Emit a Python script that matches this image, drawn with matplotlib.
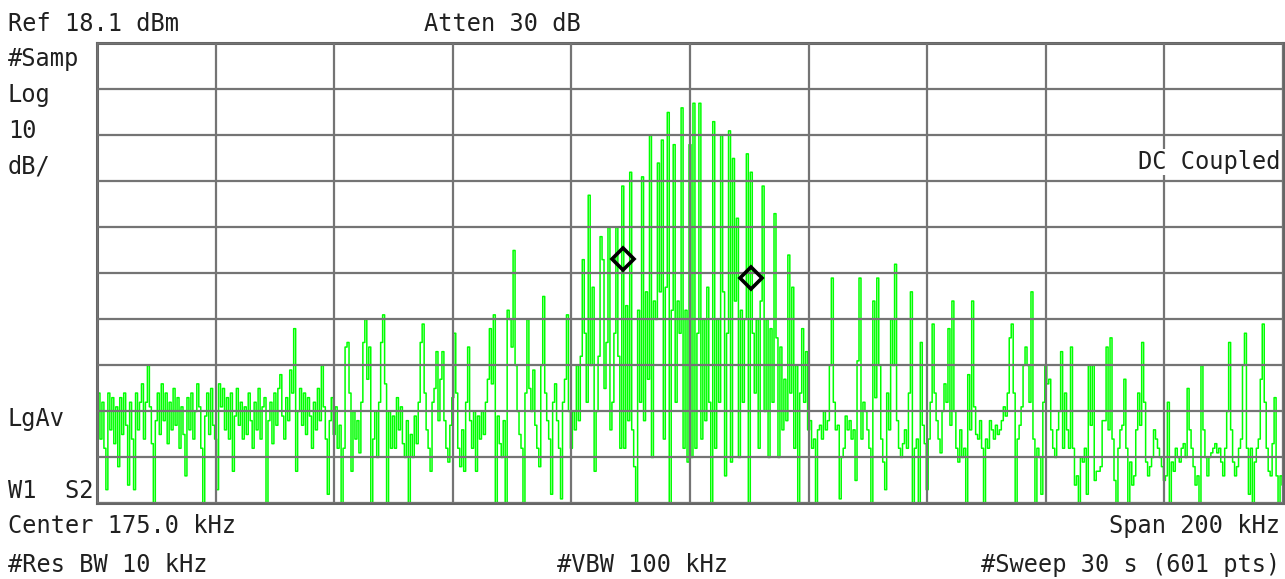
import matplotlib
matplotlib.use("Agg")
import matplotlib.pyplot as plt
import numpy as np

# analyzer settings shown on screen
ref_level = 18.1      # dBm at top graticule
db_per_div = 10
center_khz = 175.0
span_khz = 200.0
n_pts = 601

trace_dbm = [
    -63, -58, -68, -60, -70, -79, -58, -66, -59, -69, -61, -74, -59, -67, -58, -65, -78, -60, -68, -79, -58, -66, -60, -56, -68,
    -60, -52, -61, -69, -82, -64, -58, -67, -56, -64, -58, -69, -60, -66, -57, -65, -59, -70, -61, -67, -76, -59, -66, -58, -68,
    -62, -56, -61, -70, -82, -63, -58, -67, -57, -65, -68, -79, -56, -61, -57, -66, -59, -68, -58, -75, -63, -57, -65, -60, -68,
    -61, -67, -58, -64, -70, -60, -66, -57, -68, -61, -59, -82, -64, -60, -69, -58, -65, -57, -54, -63, -68, -59, -64, -53, -58,
    -44, -75, -62, -57, -65, -58, -67, -59, -63, -70, -60, -66, -57, -64, -52, -61, -68, -80, -64, -59, -67, -61, -70, -65, -82,
    -70, -48, -47, -58, -75, -62, -68, -64, -71, -60, -47, -42, -55, -48, -82, -68, -62, -72, -60, -47, -41, -56, -82, -62, -70,
    -63, -70, -59, -66, -61, -69, -72, -64, -82, -67, -72, -63, -69, -60, -47, -43, -58, -66, -70, -75, -60, -57, -49, -64, -55,
    -49, -64, -70, -73, -65, -59, -45, -58, -70, -74, -66, -75, -60, -48, -64, -70, -62, -75, -63, -68, -62, -67, -60, -55, -44,
    -56, -41, -82, -63, -69, -72, -64, -82, -40, -42, -48, -27, -52, -62, -67, -70, -82, -58, -42, -57, -62, -53, -65, -70, -74,
    -52, -37, -58, -64, -68, -80, -60, -56, -64, -70, -81, -60, -55, -41, -62, -70, -62, -66, -52, -64, -50, -29, -45, -60, -15,
    -52, -35, -75, -62, -50, -24, -29, -57, -47, -22, -66, -60, -45, -22, -50, -70, -13, -70, -39, -64, -10, -66, -74, -82, -40,
    -60, -11, -64, -36, -55, -2, -72, -38, -42, -8, -36, -3, -68, -35, 3, -82, -40, -4, -60, -38, -45, 4, -70, -40, -73,
    -4, -72, 5, -70, -45, 5, -68, -42, -64, -35, -60, -82, 1, -70, -42, -60, -2, -36, -76, -45, -1, -73, -7, -38, -20,
    -72, -40, -60, -42, -6, -82, -10, -45, -58, -42, -70, -38, -13, -62, -42, -72, -44, -60, -19, -46, -72, -48, -66, -55, -64,
    -28, -58, -35, -70, -52, -82, -58, -44, -60, -49, -66, -64, -70, -68, -82, -66, -65, -68, -62, -66, -64, -52, -33, -60, -66,
    -65, -81, -72, -70, -63, -66, -64, -68, -66, -77, -51, -33, -68, -60, -62, -66, -70, -82, -38, -59, -33, -52, -68, -73, -79,
    -58, -66, -42, -52, -30, -64, -70, -72, -69, -66, -70, -58, -36, -82, -70, -68, -82, -47, -65, -69, -79, -68, -60, -43, -58,
    -64, -68, -71, -62, -56, -60, -44, -65, -38, -62, -70, -73, -66, -72, -70, -82, -54, -66, -38, -61, -67, -68, -64, -70, -82,
    -68, -70, -64, -66, -68, -65, -67, -66, -64, -61, -63, -58, -46, -43, -58, -82, -68, -65, -61, -52, -48, -52, -60, -36, -68,
    -82, -70, -72, -80, -60, -52, -56, -55, -66, -70, -72, -66, -62, -49, -70, -58, -66, -70, -48, -70, -78, -76, -82, -72, -73,
    -70, -80, -52, -65, -52, -77, -75, -75, -74, -64, -64, -48, -66, -46, -68, -77, -82, -70, -66, -65, -55, -70, -82, -73, -78,
    -76, -66, -58, -65, -47, -60, -73, -76, -74, -72, -66, -68, -70, -72, -74, -77, -76, -60, -82, -73, -75, -70, -72, -73, -70,
    -69, -72, -57, -66, -70, -74, -78, -76, -82, -52, -66, -72, -76, -72, -71, -70, -69, -71, -70, -73, -76, -70, -62, -47, -66,
    -73, -76, -74, -70, -68, -52, -45, -70, -80, -70, -82, -73, -70, -68, -55, -43, -60, -70, -75, -76, -69, -59, -76, -82, -76, -78,
]

# markers (kHz, dBm)
marker_khz = [163.7, 185.3]
marker_dbm = [-28.9, -33.0]

f_start = center_khz - span_khz / 2
f_stop = center_khz + span_khz / 2
freq = np.linspace(f_start, f_stop, n_pts)

W, H = 1285, 579
fig = plt.figure(figsize=(W / 100, H / 100), dpi=100)
fig.patch.set_facecolor("white")

left, right, top, bottom = 97, 1283, 43, 503
ax = fig.add_axes([left / W, 1 - bottom / H, (right - left) / W, (bottom - top) / H])

ax.plot(freq, trace_dbm, color="#00ff00", lw=1.1, drawstyle="steps-mid", zorder=2)
ax.plot(marker_khz, marker_dbm, "D", ms=11, mfc="none", mec="black", mew=2.6, zorder=4)

ax.set_xlim(f_start, f_stop)
ax.set_ylim(ref_level - 10 * db_per_div, ref_level)
ax.set_xticks(np.linspace(f_start, f_stop, 11))
ax.set_yticks(np.linspace(ref_level - 10 * db_per_div, ref_level, 11))
ax.tick_params(length=0, labelbottom=False, labelleft=False)
ax.set_axisbelow(False)
ax.grid(True, color="#747474", lw=1.6)
for sp in ax.spines.values():
    sp.set_color("#666666")
    sp.set_linewidth(2.2)


def label(x, y, s, ha="left", **kw):
    fig.text(x / W, 1 - y / H, s, ha=ha, va="baseline", fontsize=17,
             family="DejaVu Sans Mono", color="#202020", **kw)


label(8, 31, "Ref 18.1 dBm")
label(424, 31, "Atten 30 dB")
label(8, 66, "#Samp")
label(8, 102, "Log")
label(8, 138, "10")
label(8, 173, "dB/")
label(1280, 169, "DC Coupled", ha="right",
      bbox=dict(facecolor="white", edgecolor="none", pad=1))
label(8, 426, "LgAv")
label(8, 498, "W1  S2")
label(8, 533, "Center 175.0 kHz")
label(1280, 533, "Span 200 kHz", ha="right")
label(8, 572, "#Res BW 10 kHz")
label(557, 572, "#VBW 100 kHz")
label(1280, 572, "#Sweep 30 s (601 pts)", ha="right")

fig.savefig("out.png", dpi=100, facecolor="white")
